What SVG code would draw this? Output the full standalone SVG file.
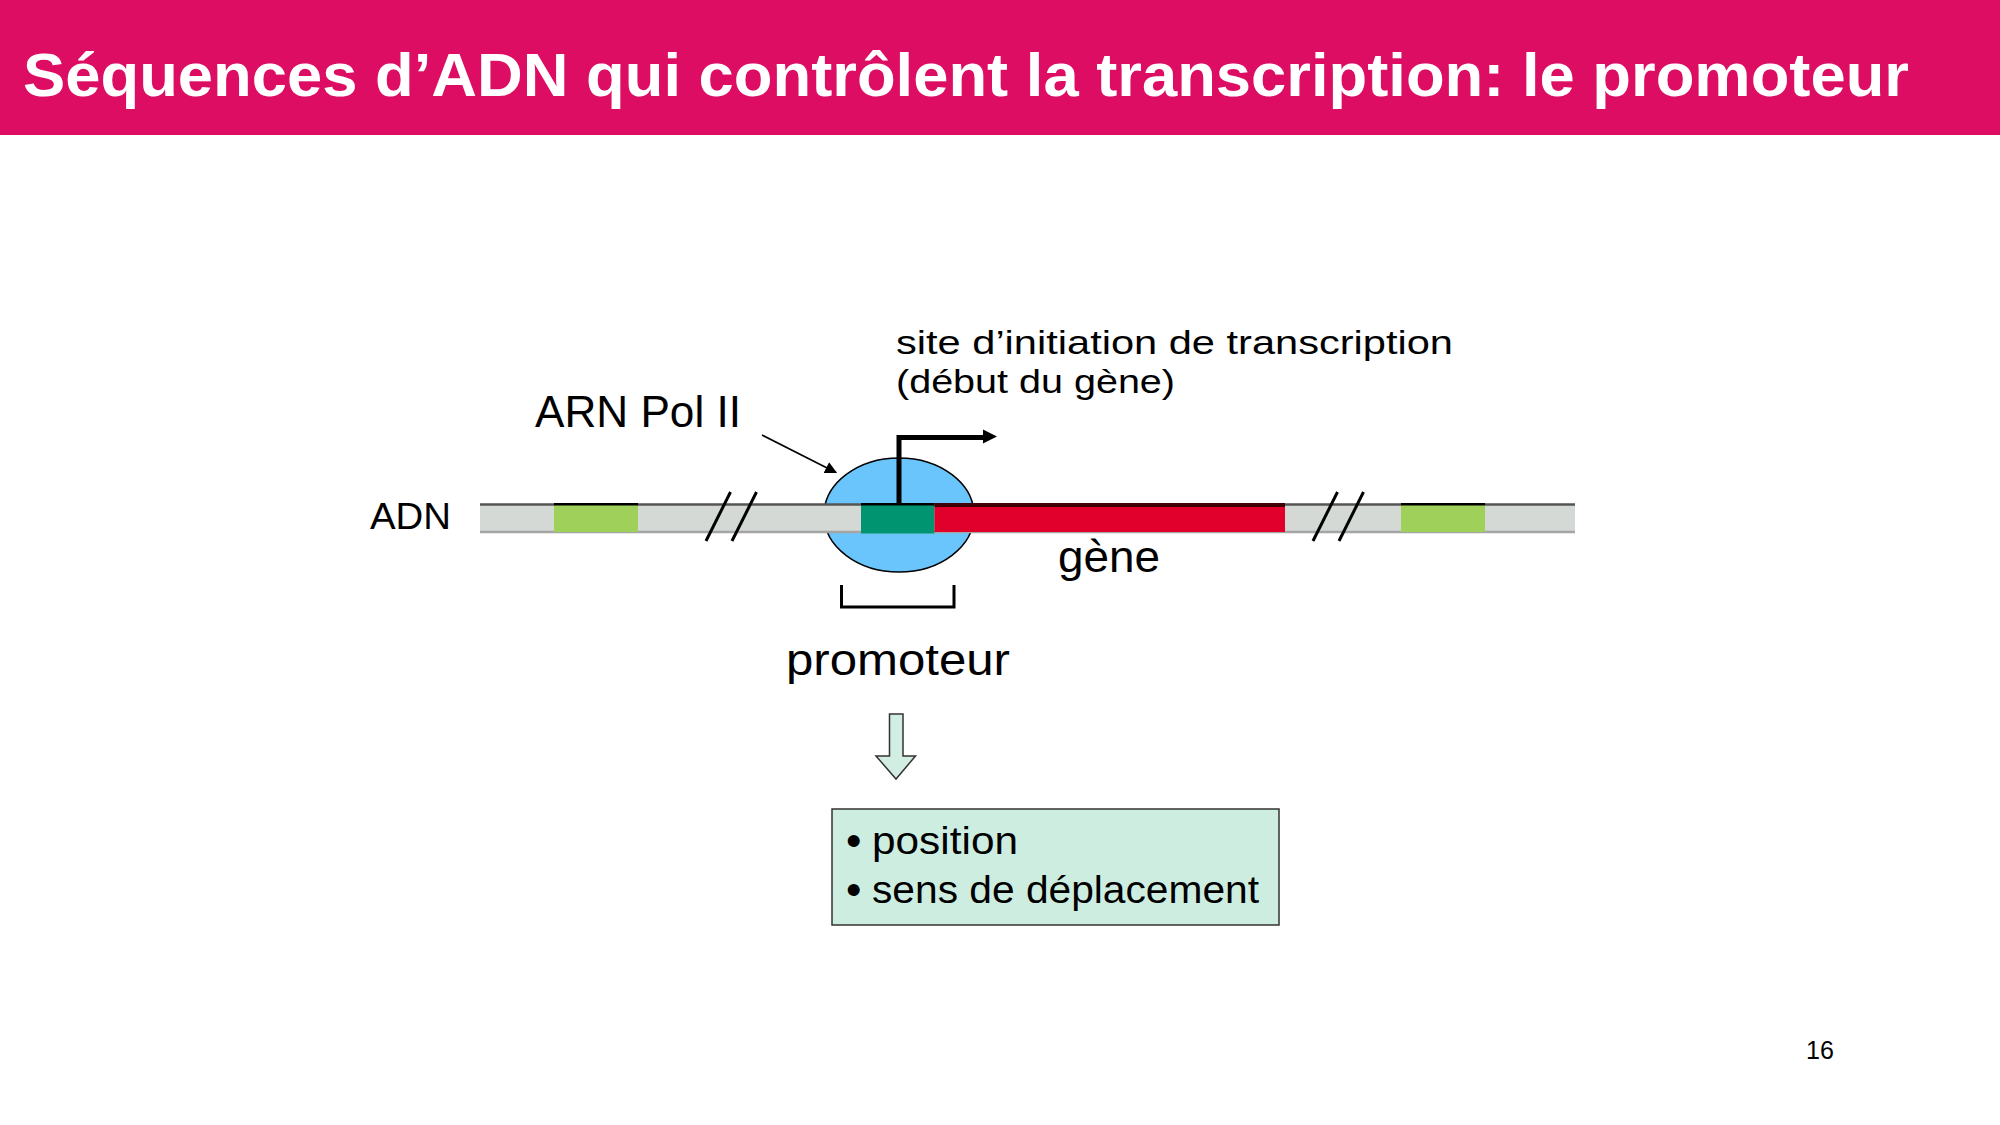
<svg xmlns="http://www.w3.org/2000/svg" width="2000" height="1125" viewBox="0 0 2000 1125">
  <style>
    .lbl { font-family: "Liberation Sans", Arial, sans-serif; fill: #000; }
    .title { font-family: "Liberation Sans", Arial, sans-serif; font-weight: bold; fill: #fff; font-size: 61px; }
    .slash { stroke: #000; stroke-width: 3; fill: none; }
  </style>
  <defs>
    <marker id="tri" viewBox="0 0 10 10" refX="9" refY="5" markerWidth="12" markerHeight="12" markerUnits="userSpaceOnUse" orient="auto">
      <path d="M0,0 L10,5 L0,10 Z" fill="#000"/>
    </marker>
  </defs>
  <rect x="0" y="0" width="2000" height="1125" fill="#fff"/>
  <g id="header">
    <rect x="0" y="0" width="2000" height="135" fill="#DC0D62"/>
    <text class="title" x="23" y="96" textLength="1886" lengthAdjust="spacingAndGlyphs">Séquences d’ADN qui contrôlent la transcription: le promoteur</text>
  </g>

  <g id="polymerase">
    <ellipse cx="899" cy="515" rx="75" ry="57" fill="#6BC5FD" stroke="#000" stroke-width="1.5"/>
  </g>

  <g id="dna">
    <rect x="480" y="504" width="1095" height="29" fill="#D5D9D5"/>
    <line x1="480" y1="504.5" x2="1575" y2="504.5" stroke="#555" stroke-width="2.5"/>
    <line x1="480" y1="532" x2="1575" y2="532" stroke="#A5A5A5" stroke-width="2.5"/>
    <rect x="554" y="504" width="84" height="28" fill="#9FD05A"/>
    <line x1="554" y1="504.3" x2="638" y2="504.3" stroke="#000" stroke-width="2.5"/>
    <rect x="1401" y="504" width="84" height="28" fill="#9FD05A"/>
    <line x1="1401" y1="504.3" x2="1485" y2="504.3" stroke="#000" stroke-width="2.5"/>
  </g>

  <g id="promoter-box">
    <rect x="861" y="504" width="73.5" height="29.5" fill="#009570"/>
    <line x1="861" y1="504.3" x2="934.5" y2="504.3" stroke="#000" stroke-width="2.5"/>
  </g>

  <g id="gene">
    <rect x="934.5" y="504" width="350.5" height="28" fill="#E0002B"/>
    <line x1="934.5" y1="505" x2="1285" y2="505" stroke="#3F0008" stroke-width="4"/>
  </g>

  <g id="breaks">
    <line class="slash" x1="706" y1="541" x2="730.5" y2="492"/>
    <line class="slash" x1="732" y1="541" x2="756.5" y2="492"/>
    <line class="slash" x1="1313" y1="541" x2="1337.5" y2="492"/>
    <line class="slash" x1="1339" y1="541" x2="1363.5" y2="492"/>
  </g>

  <g id="connectors">
    <path d="M899,504 V437.5 H984" fill="none" stroke="#000" stroke-width="5"/>
    <path d="M983,429.5 L997,436.5 L983,443.5 Z" fill="#000"/>
    <line x1="762" y1="435" x2="836" y2="472.5" stroke="#000" stroke-width="1.6" marker-end="url(#tri)"/>
    <path d="M841.5,585 V607 H954 V585" fill="none" stroke="#000" stroke-width="3"/>
    <path d="M889.5,714 H903 V756 H915.5 L896,779 L876,756 H889.5 Z" fill="#D2EEE2" stroke="#333" stroke-width="1.5"/>
  </g>

  <g id="labels">
    <text class="lbl" x="370" y="529" font-size="37" textLength="81" lengthAdjust="spacingAndGlyphs">ADN</text>
    <text class="lbl" x="535" y="427" font-size="44" textLength="206" lengthAdjust="spacingAndGlyphs">ARN Pol II</text>
    <text class="lbl" x="896" y="354" font-size="34" textLength="557" lengthAdjust="spacingAndGlyphs">site d’initiation de transcription</text>
    <text class="lbl" x="896" y="393" font-size="34" textLength="279" lengthAdjust="spacingAndGlyphs">(début du gène)</text>
    <text class="lbl" x="1058" y="572" font-size="44" textLength="102" lengthAdjust="spacingAndGlyphs">gène</text>
    <text class="lbl" x="786" y="675" font-size="44" textLength="224" lengthAdjust="spacingAndGlyphs">promoteur</text>
  </g>

  <g id="properties">
    <rect x="832" y="809" width="447" height="116" fill="#CDEDE0" stroke="#333" stroke-width="1.5"/>
    <text class="lbl" x="846" y="856" font-size="44">•</text>
    <text class="lbl" x="872" y="854" font-size="38" textLength="146" lengthAdjust="spacingAndGlyphs">position</text>
    <text class="lbl" x="846" y="905" font-size="44">•</text>
    <text class="lbl" x="872" y="903" font-size="38" textLength="387" lengthAdjust="spacingAndGlyphs">sens de déplacement</text>
  </g>

  <text class="lbl" x="1806" y="1059" font-size="25">16</text>
</svg>
